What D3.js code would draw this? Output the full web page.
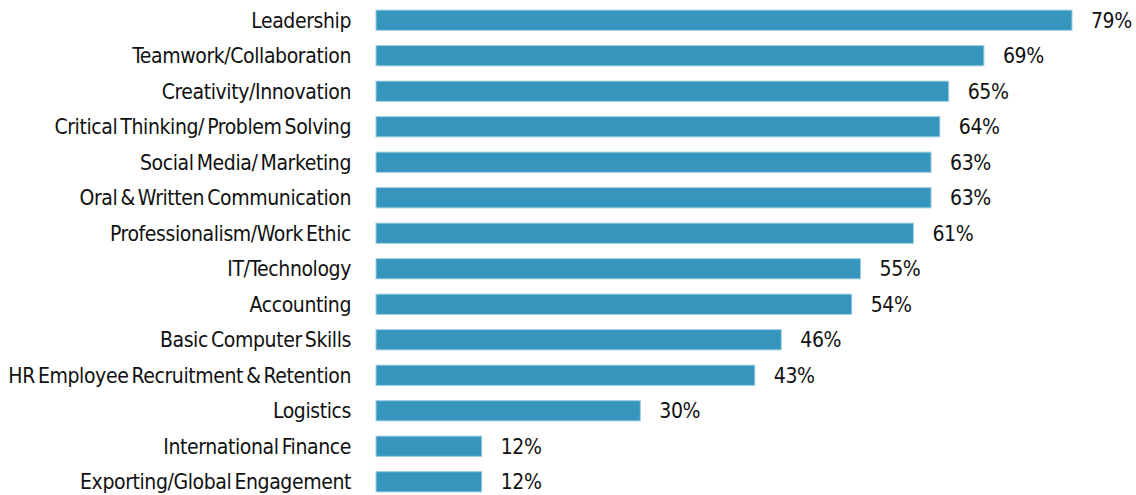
<!DOCTYPE html>
<html>
<head>
<meta charset="utf-8">
<script src="https://cdn.jsdelivr.net/npm/d3@7"></script>
<style>
  body { margin: 0; background: #fff; }
  text { font-family: "DejaVu Sans", sans-serif; font-stretch: condensed; fill: #111; }
</style>
</head>
<body>
<svg width="1136" height="495"></svg>
<script>
// skills and share of respondents (%)
const skills = [
  'Leadership', 'Teamwork/Collaboration', 'Creativity/Innovation',
  'Critical Thinking/ Problem Solving', 'Social Media/ Marketing',
  'Oral & Written Communication', 'Professionalism/Work Ethic',
  'IT/Technology', 'Accounting', 'Basic Computer Skills',
  'HR Employee Recruitment & Retention', 'Logistics',
  'International Finance', 'Exporting/Global Engagement'
];
const values = [79, 69, 65, 64, 63, 63, 61, 55, 54, 46, 43, 30, 12, 12];

const svg = d3.select('svg');

// bars start at x=376, 79% ends near x=1072
const xScale = d3.scaleLinear()
  .domain([0, 79])
  .range([376, 1072]);

const yScale = d3.scaleBand()
  .domain(skills)
  .range([3, 499])
  .paddingInner(0.43)
  .paddingOuter(0.2);

const rows = svg.selectAll('g.row')
  .data(skills.map((s, i) => [s, values[i]]))
  .join('g')
  .attr('class', 'row');

rows.append('rect')
  .attr('x', xScale(0))
  .attr('y', d => yScale(d[0]))
  .attr('width', d => xScale(d[1]) - xScale(0))
  .attr('height', yScale.bandwidth())
  .attr('fill', '#3595bd')
  .attr('stroke', '#9fcde2')
  .attr('stroke-width', 1);

// category labels, right aligned
rows.append('text')
  .attr('x', 351)
  .attr('y', d => yScale(d[0]) + yScale.bandwidth() / 2)
  .attr('dy', '0.36em')
  .attr('text-anchor', 'end')
  .style('font-size', '21px')
  .style('letter-spacing', '-0.4px')
  .style('word-spacing', '-2.5px')
  .text(d => d[0]);

// value labels after the bar
rows.append('text')
  .attr('x', d => xScale(d[1]) + 19)
  .attr('y', d => yScale(d[0]) + yScale.bandwidth() / 2)
  .attr('dy', '0.36em')
  .style('font-size', '21px')
  .style('letter-spacing', '-0.4px')
  .text(d => d[1] + '%');
</script>
</body>
</html>
